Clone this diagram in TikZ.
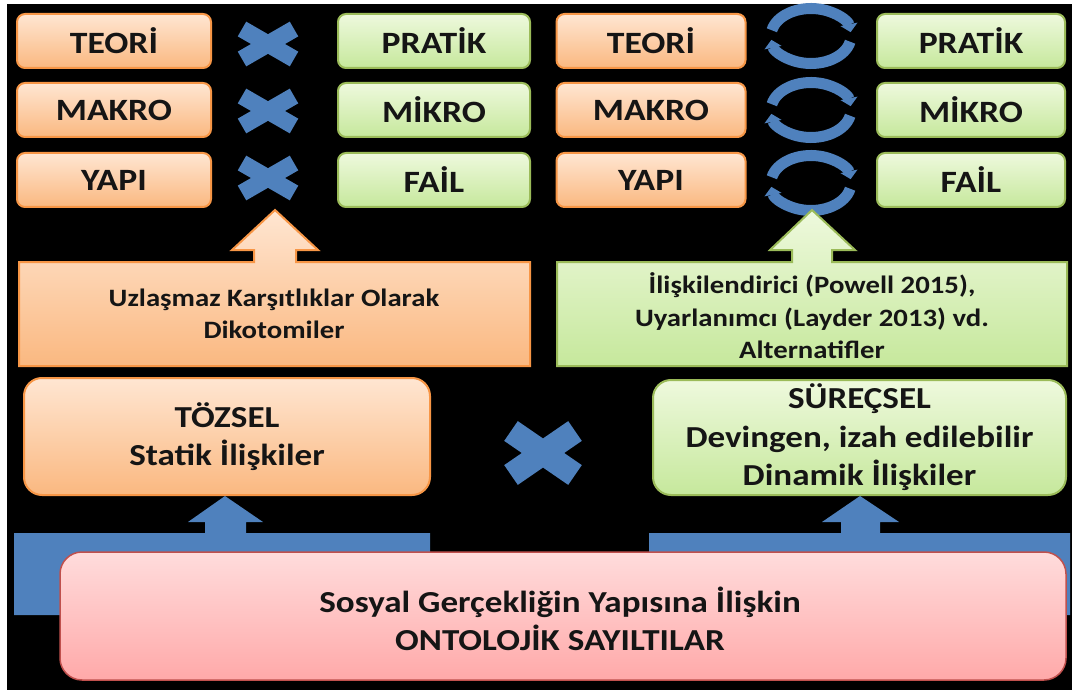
\documentclass[tikz,border=0pt]{standalone}
\usepackage{fontspec}
\setmainfont{Carlito}[FakeStretch=1.15]
\usetikzlibrary{arrows.meta}
\definecolor{orB}{HTML}{F79646}
\definecolor{orT}{HTML}{FFE6D2}
\definecolor{orM}{HTML}{FAB880}
\definecolor{grB}{HTML}{9BBB59}
\definecolor{grT}{HTML}{EEF9DD}
\definecolor{grM}{HTML}{C6E89C}
\definecolor{pkB}{HTML}{C0504D}
\definecolor{pkT}{HTML}{FFDCDC}
\definecolor{pkM}{HTML}{FFA9A9}
\definecolor{blu}{HTML}{4F81BD}
\definecolor{txt}{HTML}{151515}
\begin{document}
\begin{tikzpicture}[x=1pt,y=-1pt,
  lbl/.style={inner sep=0pt, minimum height=54pt, text=txt,
    font=\fontsize{31}{36}\selectfont\bfseries},
  obox/.style={lbl, draw=orB, line width=2pt, rounded corners=8pt,
    top color=orT, bottom color=orM},
  gbox/.style={lbl, draw=grB, line width=2pt, rounded corners=8pt,
    top color=grT, bottom color=grM},
  xline/.style={blu, line width=#1, line cap=butt},
  ringarrow/.style={blu, line width=11pt, line cap=butt,
    -{Triangle[length=8pt,width=17pt]}},
  calltext/.style={align=center, text=txt, inner sep=0pt,
    font=\fontsize{25}{32.5}\selectfont\bfseries},
  bigtext/.style={align=center, text=txt, inner sep=0pt,
    font=\fontsize{30.5}{38.5}\selectfont\bfseries},
]
\useasboundingbox (0,0) rectangle (1072,690);
\fill[white] (0,0) rectangle (1072,690);
\fill[black] (7,4) rectangle (1072,690);

% ---------- top left group ----------
\node[obox, minimum width=194pt] (t1) at (114,41) {TEORİ};
\node[obox, minimum width=194pt] (m1) at (114,110) {MAKRO};
\node[obox, minimum width=194pt] (y1) at (114,180) {YAPI};
\node[gbox, minimum width=192pt] (p1) at (434,41) {PRATİK};
\node[gbox, minimum width=192pt] (k1) at (434,110) {MİKRO};
\node[gbox, minimum width=192pt] (f1) at (434,180) {FAİL};

\foreach \n/\cy in {xa/44, xb/111, xc/178}{
  \coordinate (\n) at (268,\cy);
  \draw[xline=17pt] ([shift={(-26,-15)}]\n) -- ([shift={(26,15)}]\n);
  \draw[xline=17pt] ([shift={(-26,15)}]\n) -- ([shift={(26,-15)}]\n);
}

% ---------- top right group ----------
\node[obox, minimum width=189pt] (t2) at (651,41) {TEORİ};
\node[obox, minimum width=189pt] (m2) at (651,110) {MAKRO};
\node[obox, minimum width=189pt] (y2) at (651,180) {YAPI};
\node[gbox, minimum width=188pt] (p2) at (971,41) {PRATİK};
\node[gbox, minimum width=188pt] (k2) at (971,110) {MİKRO};
\node[gbox, minimum width=188pt] (f2) at (971,180) {FAİL};

\foreach \n/\cy in {ra/36, rb/110, rc/183}{
  \coordinate (\n) at (811,\cy);
  \draw[ringarrow] ([shift={(192:40 and 27.5)}]\n) arc[start angle=192, end angle=352, x radius=40, y radius=27.5];
  \draw[ringarrow] ([shift={(12:40 and 27.5)}]\n) arc[start angle=12, end angle=172, x radius=40, y radius=27.5];
}

% ---------- callouts ----------
\path[draw=orB, line width=2pt, top color=orT, bottom color=orM, line join=miter]
  (19,366) -- (19,262) -- (254,262) -- (254,250) -- (232,250) -- (275,210)
  -- (318,250) -- (296,250) -- (296,262) -- (530,262) -- (530,366) -- cycle;
\node[calltext] (u) at (274,314) {Uzlaşmaz Karşıtlıklar Olarak\\Dikotomiler};

\path[draw=grB, line width=2pt, top color=grT, bottom color=grM, line join=miter]
  (557,366) -- (557,262) -- (792,262) -- (792,250) -- (770,250) -- (812,210)
  -- (855,250) -- (832,250) -- (832,262) -- (1067,262) -- (1067,366) -- cycle;
\node[calltext] (a) at (812,316) {İlişkilendirici (Powell 2015),\\Uyarlanımcı (Layder 2013) vd.\\Alternatifler};

% ---------- middle boxes ----------
\node[draw=orB, line width=2pt, rounded corners=18pt, top color=orT, bottom color=orM,
  minimum width=406pt, minimum height=117pt, inner sep=0pt] (tz) at (227,436.5) {};
\node[bigtext] at (tz.center) {TÖZSEL\\Statik İlişkiler};

\node[draw=grB, line width=2pt, rounded corners=18pt, top color=grT, bottom color=grM,
  minimum width=413pt, minimum height=115pt, inner sep=0pt] (sr) at (859.5,437.5) {};
\node[bigtext] at (sr.center) {SÜREÇSEL\\Devingen, izah edilebilir\\Dinamik İlişkiler};

\coordinate (xd) at (543,453);
\draw[xline=24pt] ([shift={(-32,-22)}]xd) -- ([shift={(32,22)}]xd);
\draw[xline=24pt] ([shift={(-32,22)}]xd) -- ([shift={(32,-22)}]xd);

% ---------- bottom ----------
\fill[blu] (14,615) -- (14,533) -- (205,533) -- (205,522) -- (188,522) -- (225,496)
  -- (263,522) -- (246,522) -- (246,533) -- (430,533) -- (430,615) -- cycle;
\fill[blu] (649,615) -- (649,533) -- (841,533) -- (841,522) -- (822,522) -- (860,496)
  -- (899,522) -- (880,522) -- (880,533) -- (1070,533) -- (1070,615) -- cycle;

\node[draw=pkB, line width=1.5pt, rounded corners=22pt, top color=pkT, bottom color=pkM,
  minimum width=1006pt, minimum height=128pt, inner sep=0pt] (on) at (563,616) {};
\node[bigtext] at (560,619) {Sosyal Gerçekliğin Yapısına İlişkin\\ONTOLOJİK SAYILTILAR};
\end{tikzpicture}
\end{document}
